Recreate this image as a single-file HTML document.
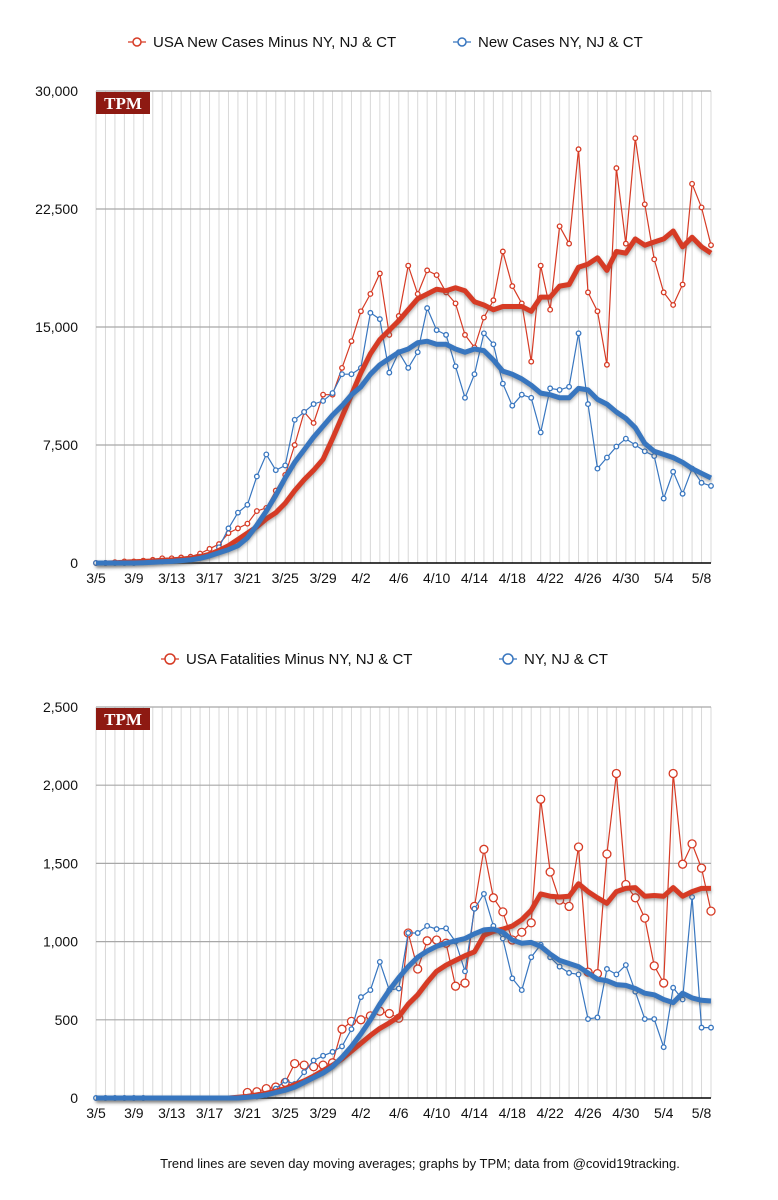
<!DOCTYPE html>
<html><head><meta charset="utf-8"><style>
body{margin:0;background:#fff;}
svg{display:block;font-family:"Liberation Sans",Arial,sans-serif;}
</style></head><body>
<svg id="c" width="778" height="1200" viewBox="0 0 778 1200" xmlns="http://www.w3.org/2000/svg">
<defs><filter id="sh" x="-5%" y="-5%" width="110%" height="120%"><feGaussianBlur stdDeviation="1.5"/></filter></defs>
</svg>
<script>
const dates=['3/5','3/9','3/13','3/17','3/21','3/25','3/29','4/2','4/6','4/10','4/14','4/18','4/22','4/26','4/30','5/4','5/8'];
const casesRed=[0,0,0.05,0.1,0.1,0.15,0.2,0.3,0.3,0.35,0.4,0.6,0.9,1.2,1.9,2.2,2.5,3.3,3.5,4.6,5.6,7.5,9.6,8.9,10.7,10.7,12.4,14.1,16,17.1,18.4,14.5,15.7,18.9,17.1,18.6,18.3,17.2,16.5,14.5,13.7,15.6,16.7,19.8,17.6,16.5,12.8,18.9,16.1,21.4,20.3,26.3,17.2,16,12.6,25.1,20.3,27,22.8,19.3,17.2,16.4,17.7,24.1,22.6,20.2];
const casesRedMA=[0,0,0.02,0.05,0.08,0.1,0.13,0.17,0.2,0.25,0.3,0.4,0.55,0.8,1.1,1.5,1.9,2.3,2.8,3.2,3.8,4.6,5.3,5.9,6.6,7.9,9.3,10.7,12.1,13.3,14.2,14.8,15.4,16.1,16.8,17.1,17.4,17.3,17.5,17.3,16.6,16.4,16.1,16.3,16.3,16.3,16.0,16.9,16.9,17.6,17.7,18.8,19.0,19.4,18.6,19.8,19.7,20.6,20.2,20.4,20.6,21.1,20.1,20.7,20.1,19.7];
const casesBlue=[0,0,0,0,0,0.05,0.1,0.1,0.15,0.2,0.3,0.4,0.5,1.0,2.2,3.2,3.7,5.5,6.9,5.9,6.2,9.1,9.6,10.1,10.3,10.8,12,12,12.4,15.9,15.5,12.1,13.4,12.4,13.4,16.2,14.8,14.5,12.5,10.5,12,14.6,13.9,11.4,10,10.7,10.5,8.3,11.1,11,11.2,14.6,10.1,6,6.7,7.4,7.9,7.5,7.1,6.8,4.1,5.8,4.4,6,5.1,4.9];
const casesBlueMA=[0,0,0,0,0,0.02,0.05,0.08,0.1,0.15,0.2,0.3,0.45,0.65,0.85,1.1,1.6,2.4,3.3,4.3,5.4,6.4,7.2,8.0,8.7,9.4,10.0,10.7,11.2,12.0,12.6,13.0,13.4,13.6,14.0,14.1,13.9,13.9,13.6,13.4,13.6,13.5,12.9,12.2,12.0,11.7,11.3,10.8,10.7,10.5,10.5,11.1,11.0,10.4,10.1,9.6,9.2,8.6,7.6,7.1,6.9,6.7,6.4,6.0,5.7,5.4];
const deathsRed=[0,0,0,0,0,0,0,0,0,0,0,0,0,0,0,0,35,40,60,70,100,220,210,200,210,225,440,490,500,525,555,540,510,1055,825,1005,1010,990,715,735,1225,1590,1280,1190,1010,1060,1120,1910,1445,1265,1225,1605,805,795,1560,2075,1365,1280,1150,845,735,2075,1495,1625,1470,1195];
const deathsRedMA=[0,0,0,0,0,0,0,0,0,0,0,0,0,0,0,5,10,20,30,45,60,85,110,140,175,210,250,300,350,400,445,480,520,600,660,740,810,850,880,910,935,1040,1065,1080,1100,1140,1200,1305,1290,1285,1290,1370,1320,1280,1245,1320,1340,1345,1290,1295,1290,1345,1290,1320,1340,1340];
const deathsBlue=[0,0,0,0,0,0,0,0,0,0,0,0,0,0,0,0,0,10,20,60,110,90,165,240,270,295,330,440,645,690,870,690,700,1055,1055,1100,1080,1085,1000,810,1210,1305,1100,1020,765,690,900,980,900,840,800,790,505,515,825,790,850,680,505,505,325,705,630,1285,450,450];
const deathsBlueMA=[0,0,0,0,0,0,0,0,0,0,0,0,0,0,0,0,5,10,20,35,50,70,100,130,160,200,260,330,410,500,600,690,770,840,900,940,970,990,1005,1020,1050,1075,1080,1060,1010,990,995,970,920,880,860,840,800,760,750,725,720,700,670,660,630,610,670,640,625,620];
const ticks1=['0','7,500','15,000','22,500','30,000'];
const ticks2=['0','500','1,000','1,500','2,000','2,500'];

const NS='http://www.w3.org/2000/svg';
const svg=document.getElementById('c');
function el(t,a,p){const e=document.createElementNS(NS,t);for(const k in a)e.setAttribute(k,a[k]);(p||svg).appendChild(e);return e;}
const RED='#d63b25',BLUE='#3876bf';
const X0=96,X1=711,N=66;
function xs(i){return X0+i*(X1-X0)/(N-1);}

function chart(o){
  const g=el('g',{});
  
  
  const ys=v=>o.yb-v/o.max*(o.yb-o.yt);
  for(let i=0;i<N;i++){const l=el('line',{x1:xs(i),x2:xs(i),y1:o.yt,y2:o.yb,stroke:'#d8d8d8','stroke-width':1},g);
    
    }
  o.ticks.forEach((t,k)=>{const v=k*o.max/(o.ticks.length-1);const y=ys(v);
    if(k>0){const l=el('line',{x1:X0,x2:X1,y1:y,y2:y,stroke:'#a8a8a8','stroke-width':1.2},g);
      
      }
    const tx=el('text',{x:78,y:y+5,'text-anchor':'end','font-size':14,fill:'#111'},g);tx.textContent=t;
    
    });
  const ax=el('line',{x1:X0-2,x2:X1,y1:o.yb,y2:o.yb,stroke:'#000','stroke-width':1.5},g);
  
  
  dates.forEach((d,k)=>{const tx=el('text',{x:xs(k*4),y:o.yb+20,'text-anchor':'middle','font-size':14,fill:'#111'},g);tx.textContent=d;
    
    });
  const b=el('rect',{x:X0,y:o.yt+1,width:54,height:22,fill:'#8e1a12'},g);
  
  
  const bt=el('text',{x:X0+27,y:o.yt+18,'text-anchor':'middle','font-size':17,'font-weight':'bold','font-family':'"Liberation Serif",serif',fill:'#fff'},g);bt.textContent='TPM';
  
  
  const pts=a=>a.map((v,i)=>xs(i).toFixed(1)+','+ys(v).toFixed(1)).join(' ');
  o.series.forEach(s=>{
    const p=el('polyline',{points:pts(s.d),fill:'none',stroke:s.c,'stroke-width':1.2},g);
    
    
    s.d.forEach((v,i)=>{if(i<s.from&&!(s.early&&i<s.early))return;
      const c=el('circle',{cx:xs(i),cy:ys(v),r:s.r,fill:'#fff',stroke:s.c,'stroke-width':1.3},g);
      
      });
  });
  o.series.forEach(s=>{
    const sh=el('polyline',{points:pts(s.ma),fill:'none',stroke:'#555','stroke-opacity':0.5,'stroke-width':5,filter:'url(#sh)',transform:'translate(0,2)'},g);
    
    
    const p=el('polyline',{points:pts(s.ma),fill:'none',stroke:s.c,'stroke-width':5,'stroke-linejoin':'round'},g);
    
    
  });
  o.legend.forEach(L=>{
    const l=el('line',{x1:L.x-9,x2:L.x+9,y1:L.y,y2:L.y,stroke:L.c,'stroke-width':1.3},g);
    
    
    const c=el('circle',{cx:L.x,cy:L.y,r:L.r,fill:'#fff',stroke:L.c,'stroke-width':1.5},g);
    
    
    const t=el('text',{x:L.x+16,y:L.y+5,'font-size':15,fill:'#111'},g);t.textContent=L.t;
    
    
  });
}
chart({name:'new-cases-chart',yt:91,yb:563,max:30,ticks:ticks1,
  series:[{n:'red-cases',d:casesRed,ma:casesRedMA,c:RED,r:2.3,from:0},{n:'blue-cases',d:casesBlue,ma:casesBlueMA,c:BLUE,r:2.3,from:0}],
  legend:[{x:137,y:42,c:RED,r:4,t:'USA New Cases Minus NY, NJ & CT'},{x:462,y:42,c:BLUE,r:4,t:'New Cases NY, NJ & CT'}]});
chart({name:'fatalities-chart',yt:707,yb:1098,max:2500,ticks:ticks2,
  series:[{n:'red-fatalities',d:deathsRed,ma:deathsRedMA,c:RED,r:4,from:16},{n:'blue-fatalities',d:deathsBlue,ma:deathsBlueMA,c:BLUE,r:2.3,from:17,early:6}],
  legend:[{x:170,y:659,c:RED,r:5,t:'USA Fatalities Minus NY, NJ & CT'},{x:508,y:659,c:BLUE,r:5,t:'NY, NJ & CT'}]});
const f=el('text',{x:420,y:1168,'text-anchor':'middle','font-size':13,fill:'#111'});
f.textContent='Trend lines are seven day moving averages; graphs by TPM; data from @covid19tracking.';


</script>
</body></html>
